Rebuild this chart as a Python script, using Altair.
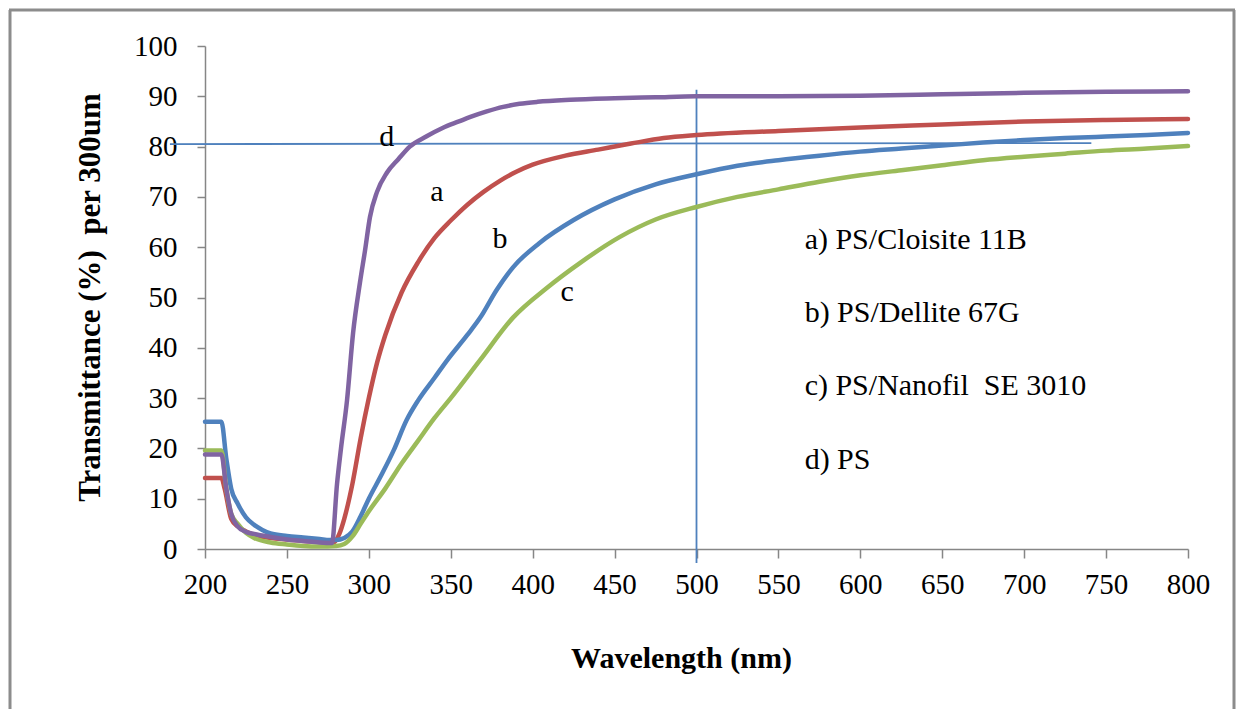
import altair as alt
import pandas as pd

# ---- data ----
wl_a = [200, 210, 212, 216, 220, 225, 230, 240, 250, 260, 270, 278, 282, 285, 290, 295, 300, 305, 310,
        320, 330, 340, 350, 360, 370, 380, 390, 400, 420, 440, 460, 480, 500, 550, 600, 650, 700, 750, 800]
t_a = [14.1, 14.1, 12.0, 6.0, 4.5, 3.5, 2.8, 2.2, 1.9, 1.6, 1.4, 1.2, 3.0, 6.0, 13.0, 22.0, 30.0, 37.0, 42.5,
       51.0, 57.0, 61.8, 65.3, 68.4, 71.0, 73.2, 75.0, 76.4, 78.2, 79.4, 80.6, 81.7, 82.3, 83.1, 83.8, 84.4, 85.0, 85.3, 85.5]

wl_b = [200, 210, 213, 216, 220, 225, 230, 235, 240, 250, 260, 270, 276, 280, 285, 290, 295, 300, 307, 315,
        323, 330, 340, 348, 360, 368, 378, 388, 404, 425, 450, 475, 500, 525, 550, 575, 600, 625, 650, 675,
        700, 725, 750, 775, 800]
t_b = [25.3, 25.3, 18.0, 12.0, 9.0, 6.3, 4.8, 3.8, 3.1, 2.6, 2.3, 2.0, 1.8, 1.8, 2.2, 3.5, 6.5, 10.0, 14.3, 19.5,
       25.6, 29.5, 34.0, 37.6, 42.5, 46.0, 51.5, 56.0, 60.8, 65.4, 69.5, 72.5, 74.5, 76.2, 77.3, 78.2, 79.0, 79.6, 80.2, 80.8,
       81.3, 81.7, 82.0, 82.3, 82.7]

wl_c = [200, 210, 213, 216, 220, 225, 230, 240, 250, 260, 270, 280, 285, 290, 295, 300, 310, 320, 330, 340,
        350, 368, 388, 409, 429, 453, 475, 500, 525, 550, 575, 600, 625, 650, 675, 700, 725, 750, 775, 800]
t_c = [19.6, 19.6, 12.0, 7.0, 5.0, 3.2, 2.2, 1.3, 0.9, 0.6, 0.5, 0.6, 1.0, 2.5, 5.0, 7.5, 12.0, 17.0, 21.5, 26.0,
       30.0, 37.6, 46.0, 52.0, 56.9, 62.0, 65.5, 68.0, 70.0, 71.5, 73.0, 74.3, 75.3, 76.3, 77.3, 78.0, 78.6, 79.2, 79.6, 80.1]

wl_d = [200, 210, 213, 216, 220, 225, 230, 240, 250, 260, 270, 277.5, 280.6, 283, 286.7, 290.4, 294.6, 297.7,
        300.7, 305, 311, 318, 325, 335, 345, 355, 362, 372, 382, 392, 403, 423, 450, 475, 500, 550, 600, 650,
        700, 750, 800]
t_d = [18.8, 18.8, 12.0, 7.0, 4.5, 3.4, 3.0, 2.4, 1.9, 1.6, 1.3, 1.2, 13.0, 20.0, 29.6, 43.0, 53.0, 59.4,
       66.0, 71.0, 74.8, 77.5, 80.0, 82.0, 83.7, 85.0, 85.9, 87.0, 87.9, 88.5, 88.9, 89.3, 89.6, 89.8, 90.0, 90.0, 90.1, 90.4,
       90.7, 90.9, 91.0]

series_keys = ["a", "b", "c", "d"]
series_colors = ["#C0504D", "#4F81BD", "#9BBB59", "#8064A2"]

curve_labels = ["d", "a", "b", "c"]
curve_label_x = [311, 341.6, 380, 421]
curve_label_y = [81.9, 71.0, 61.6, 51.1]

legend_texts = ["a) PS/Cloisite 11B", "b) PS/Dellite 67G", "c) PS/Nanofil\u00a0 SE 3010", "d) PS"]
legend_x = [566, 566, 566, 566]
legend_y = [61.4, 46.9, 32.4, 17.7]

hline_x = [178.6, 741]
hline_y = [80.5, 80.7]
vline_x = [500]
vline_y = [-2.8, 91.3]

x_ticks = list(range(200, 801, 50))
y_ticks = list(range(0, 101, 10))

# ---- build tables ----
rows = []
for key, wl, tt in zip(series_keys, [wl_a, wl_b, wl_c, wl_d], [t_a, t_b, t_c, t_d]):
    for w, t in zip(wl, tt):
        rows.append({"series": key, "wl": w, "T": t})
df = pd.DataFrame(rows)

lab_df = pd.DataFrame({"lab": curve_labels, "x": curve_label_x, "y": curve_label_y})
leg_df = pd.DataFrame({"lab": legend_texts, "x": legend_x, "y": legend_y})
h_df = pd.DataFrame({"x": [hline_x[0]], "x2": [hline_x[1]], "y": [hline_y[0]], "y2": [hline_y[1]]})
v_df = pd.DataFrame({"x": vline_x, "y": [vline_y[0]], "y2": [vline_y[1]]})

FONT = "Liberation Serif"
W, H = 983, 503

xscale = alt.Scale(domain=[200, 800], nice=False, zero=False)
yscale = alt.Scale(domain=[0, 100], nice=False)

xaxis = alt.Axis(values=x_ticks, title="Wavelength (nm)", grid=False, domainColor="#868686",
                 domainWidth=1.5, tickColor="#868686", tickWidth=1.5, tickSize=9,
                 labelFont=FONT, labelFontSize=29, labelColor="black", labelPadding=12,
                 labelFlush=False, labelOverlap=False,
                 titleFont=FONT, titleFontSize=30, titleFontWeight="bold", titleColor="black",
                 titleX=476, titleY=109, titleBaseline="middle", titleAlign="center")
yaxis = alt.Axis(values=y_ticks, title="Transmittance (%)\u00a0 per 300um", grid=False, domainColor="#868686",
                 domainWidth=1.5, tickColor="#868686", tickWidth=1.5, tickSize=8,
                 labelFont=FONT, labelFontSize=29, labelColor="black", labelPadding=20,
                 labelFlush=False, labelOverlap=False,
                 titleFont=FONT, titleFontSize=31, titleFontWeight="bold", titleColor="black",
                 titleX=-115, titleY=251, titleAngle=270, titleBaseline="middle", titleAlign="center")

lines = alt.Chart(df).mark_line(strokeWidth=4.5, strokeJoin="round", strokeCap="round",
                                interpolate="monotone").encode(
    x=alt.X("wl:Q", scale=xscale, axis=xaxis),
    y=alt.Y("T:Q", scale=yscale, axis=yaxis),
    color=alt.Color("series:N", scale=alt.Scale(domain=series_keys, range=series_colors), legend=None),
    order=alt.Order("wl:Q"),
)

hrule = alt.Chart(h_df).mark_rule(color="#4F81BD", strokeWidth=1.8).encode(
    x=alt.X("x:Q", scale=xscale), x2="x2:Q", y=alt.Y("y:Q", scale=yscale), y2="y2:Q")
vrule = alt.Chart(v_df).mark_rule(color="#4F81BD", strokeWidth=1.8).encode(
    x=alt.X("x:Q", scale=xscale), y=alt.Y("y:Q", scale=yscale), y2="y2:Q")

labels = alt.Chart(lab_df).mark_text(font=FONT, fontSize=30, color="black", align="center", baseline="middle").encode(
    x=alt.X("x:Q", scale=xscale), y=alt.Y("y:Q", scale=yscale), text="lab:N")
legend = alt.Chart(leg_df).mark_text(font=FONT, fontSize=30, color="black", align="left", baseline="middle").encode(
    x=alt.X("x:Q", scale=xscale), y=alt.Y("y:Q", scale=yscale), text="lab:N")

# outer frame of the figure (decoration), drawn as three rules
one = pd.DataFrame({"k": [0]})
fr_style = dict(color="#8c8c8c", strokeWidth=3)
frame_left = alt.Chart(one).mark_rule(**fr_style).encode(
    x=alt.value(-195), y=alt.value(-36), y2=alt.value(720))
frame_right = alt.Chart(one).mark_rule(**fr_style).encode(
    x=alt.value(1029), y=alt.value(-36), y2=alt.value(720))
frame_top = alt.Chart(one).mark_rule(**fr_style).encode(
    x=alt.value(-196), x2=alt.value(1030), y=alt.value(-36))

chart = alt.layer(frame_left, frame_right, frame_top, hrule, vrule, lines, labels, legend).properties(
    width=W, height=H,
    autosize=alt.AutoSizeParams(type="none"),
    padding={"left": 197, "top": 38, "right": 48, "bottom": 160},
    background="white",
).configure_view(stroke=None, strokeWidth=0)

chart.save("out.html", embed_options={"renderer": "svg", "actions": False})
